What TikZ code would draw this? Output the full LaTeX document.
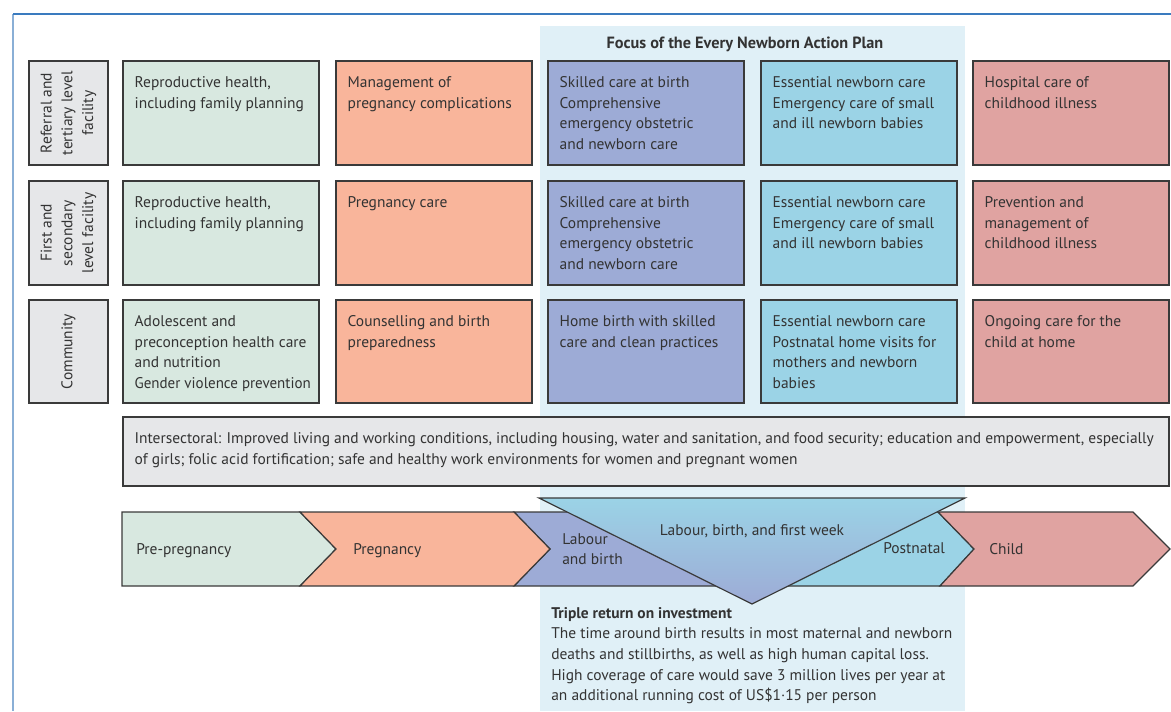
\documentclass[tikz,border=0pt]{standalone}
\usepackage{fontspec}
\usepackage{graphicx}
\setmainfont{PT Sans}
\usetikzlibrary{fit}
\definecolor{tc}{HTML}{333333}
\definecolor{lc}{HTML}{3A3A3A}
\definecolor{cgray}{HTML}{E6E7E9}
\definecolor{cgreen}{HTML}{D8E8E0}
\definecolor{csalmon}{HTML}{F9B59B}
\definecolor{cpurple}{HTML}{9DABD6}
\definecolor{ccyan}{HTML}{9BD3E6}
\definecolor{cpink}{HTML}{E0A3A1}
\definecolor{focusbg}{HTML}{E0F0F7}
\definecolor{framedark}{HTML}{3A7BBF}
\definecolor{framelight}{HTML}{8AAFD6}
\newcommand\bodyfont{\fontsize{11.6}{15.5}\selectfont}
\newcommand\cell[7]{%
  \node[box, fill=#6, fit={(#2,#3) (#4,#5)}] (#1) {};
  \node[txt] (#1t) at ([shift={(12,12.5)}]#1.north west) {\strut #7};
}
\tikzset{
  box/.style={draw=lc, line width=0.9pt, inner sep=0pt},
  txt/.style={anchor=north west, inner sep=0pt, align=left, font=\bodyfont, text=tc},
  lbl/.style={rotate=90, align=center, font=\bodyfont, text=tc, inner sep=0pt},
  band/.style={draw=lc, line width=0.9pt, line join=miter},
  btxt/.style={anchor=base west, inner sep=0pt, font=\bodyfont, text=tc}
}
\begin{document}
\begin{tikzpicture}[x=0.75pt,y=-0.75pt]
\useasboundingbox (0,0) rectangle (1171,711);
% focus background
\fill[focusbg] (540,26) rectangle (965,711);
% frame
\draw[framelight, line width=1.1pt] (13,14) -- (13,711);
\draw[framedark, line width=1.1pt] (13,14) -- (1171,14);
% title
\node[anchor=base, inner sep=0pt, font=\bfseries\fontsize{12.2}{15.5}\selectfont, text=tc] (title) at (745,48) {Focus of the Every Newborn Action Plan};
% row labels
\node[box, fill=cgray, fit={(29,61) (108,165)}] (l1) {};
\node[lbl] (l1t) at (l1.center) {Referral and\\tertiary level\\facility};
\node[box, fill=cgray, fit={(29,181) (108,285)}] (l2) {};
\node[lbl] (l2t) at (l2.center) {First and\\secondary\\level facility};
\node[box, fill=cgray, fit={(29,300) (108,403)}] (l3) {};
\node[lbl] (l3t) at (l3.center) {Community};
% row 1
\cell{a1}{123}{61}{319}{165}{cgreen}{Reproductive health,\\including family planning}
\cell{a2}{336}{61}{532}{165}{csalmon}{Management of\\pregnancy complications}
\cell{a3}{548}{61}{744}{165}{cpurple}{Skilled care at birth\\Comprehensive\\emergency obstetric\\and newborn care}
\cell{a4}{761}{61}{957}{165}{ccyan}{Essential newborn care\\Emergency care of small\\and ill newborn babies}
\cell{a5}{973}{61}{1169}{165}{cpink}{Hospital care of\\childhood illness}
% row 2
\cell{b1}{123}{181}{319}{285}{cgreen}{Reproductive health,\\including family planning}
\cell{b2}{336}{181}{532}{285}{csalmon}{Pregnancy care}
\cell{b3}{548}{181}{744}{285}{cpurple}{Skilled care at birth\\Comprehensive\\emergency obstetric\\and newborn care}
\cell{b4}{761}{181}{957}{285}{ccyan}{Essential newborn care\\Emergency care of small\\and ill newborn babies}
\cell{b5}{973}{181}{1169}{285}{cpink}{Prevention and\\management of\\childhood illness}
% row 3
\cell{c1}{123}{300}{319}{403}{cgreen}{Adolescent and\\preconception health care\\and nutrition\\\scalebox{0.97}[1]{Gender violence prevention}}
\cell{c2}{336}{300}{532}{403}{csalmon}{Counselling and birth\\preparedness}
\cell{c3}{548}{300}{744}{403}{cpurple}{Home birth with skilled\\care and clean practices}
\cell{c4}{761}{300}{957}{403}{ccyan}{Essential newborn care\\Postnatal home visits for\\mothers and newborn\\babies}
\cell{c5}{973}{300}{1169}{403}{cpink}{Ongoing care for the\\child at home}
% intersectoral
\cell{is}{123}{417}{1169}{486}{cgray}{Intersectoral: Improved living and working conditions, including housing, water and sanitation, and food security; education and empowerment, especially\\of girls; folic acid fortification; safe and healthy work environments for women and pregnant women}
% band
\path[band, fill=cpurple] (514,512) -- (760,512) -- (760,586) -- (514,586) -- (550,549) -- cycle;
\path[band, fill=ccyan] (740,512) -- (938,512) -- (974,549) -- (940,586) -- (740,586) -- cycle;
\path[band, fill=cgreen] (122,512) -- (300,512) -- (336,549) -- (300,586) -- (122,586) -- cycle;
\path[band, fill=csalmon] (300,512) -- (514,512) -- (550,549) -- (514,586) -- (300,586) -- (336,549) -- cycle;
\path[band, fill=cpink] (938,512) -- (1133,512) -- (1170,549) -- (1133,586) -- (940,586) -- (974,549) -- cycle;
% triangle
\path[band, top color=ccyan, bottom color=cpurple] (539,498) -- (965,498) -- (752,604) -- cycle;
% band labels
\node[btxt] (pp) at (136,554) {Pre-pregnancy};
\node[btxt] (pg) at (353,554) {Pregnancy};
\node[txt] (lb) at (562,529.5) {\strut Labour\\and birth};
\node[btxt, anchor=base] (lbf) at (752,535) {Labour, birth, and first week};
\node[btxt] (pn) at (883,553) {Postnatal};
\node[btxt] (ch) at (989,554) {Child};
% bottom text
\node[txt] (roi) at (551,603.5) {\strut\textbf{Triple return on investment}\\The time around birth results in most maternal and newborn\\deaths and stillbirths, as well as high human capital loss.\\High coverage of care would save 3 million lives per year at\\an additional running cost of US\$1·15 per person};
\end{tikzpicture}
\end{document}
